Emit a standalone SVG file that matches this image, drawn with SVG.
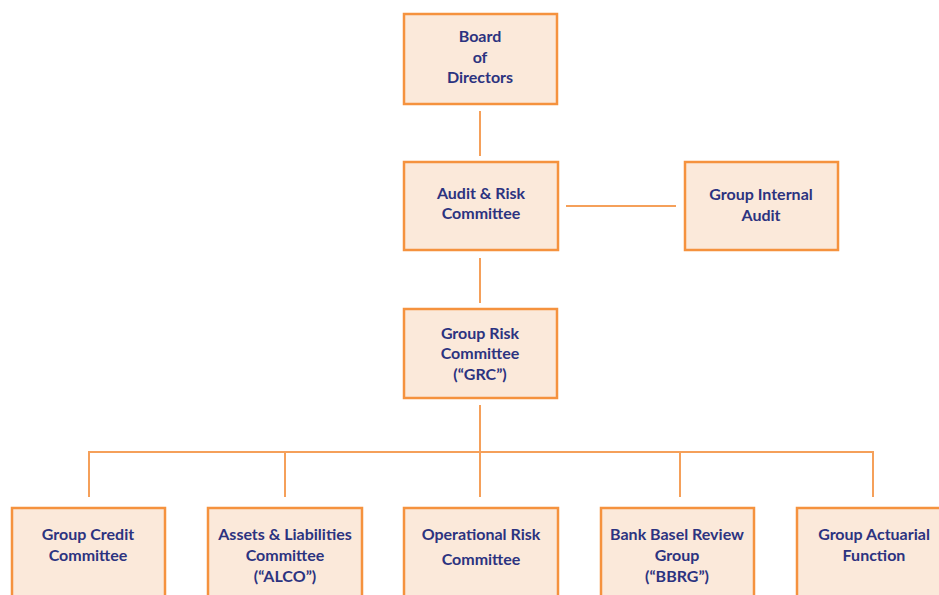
<svg xmlns="http://www.w3.org/2000/svg" width="939" height="595" viewBox="0 0 939 595">
<style>
.box{fill:#fbe9da;stroke:#f5923e;stroke-width:2.5}
.ln{stroke:#f5a05a;stroke-width:2;fill:none}
text{font-family:Lato,"Open Sans","Liberation Sans",sans-serif;font-size:16px;fill:#2c3380;text-anchor:middle;font-weight:bold}
</style>
<rect width="939" height="595" fill="#fff"/>
<g id="connectors">
<line class="ln" x1="480" y1="111" x2="480" y2="156"/>
<line class="ln" x1="480" y1="258" x2="480" y2="303"/>
<line class="ln" x1="566" y1="206" x2="676" y2="206"/>
<line class="ln" x1="480" y1="405" x2="480" y2="497"/>
<path class="ln" d="M89 497V452H873V497"/>
<line class="ln" x1="285" y1="452" x2="285" y2="497"/>
<line class="ln" x1="680" y1="452" x2="680" y2="497"/>
</g>
<g id="board"><rect class="box" x="404" y="14" width="153" height="90"/>
<text x="480" y="42">Board</text><text x="480" y="63">of</text><text x="480" y="83">Directors</text></g>
<g id="audit-risk"><rect class="box" x="404" y="162" width="154" height="88"/>
<text x="481" y="199">Audit &amp; Risk</text><text x="481" y="219">Committee</text></g>
<g id="internal-audit"><rect class="box" x="685" y="162" width="153" height="88"/>
<text x="761" y="200">Group Internal</text><text x="761" y="221">Audit</text></g>
<g id="grc"><rect class="box" x="404" y="309" width="153" height="89"/>
<text x="480" y="339">Group Risk</text><text x="480" y="359">Committee</text><text x="480" y="380">(“GRC”)</text></g>
<g id="credit"><rect class="box" x="12" y="508" width="153" height="100"/>
<text x="88" y="540">Group Credit</text><text x="88" y="561">Committee</text></g>
<g id="alco"><rect class="box" x="208" y="508" width="154" height="100"/>
<text x="285" y="540">Assets &amp; Liabilities</text><text x="285" y="561">Committee</text><text x="285" y="582">(“ALCO”)</text></g>
<g id="oprisk"><rect class="box" x="404" y="508" width="154" height="100"/>
<text x="481" y="540">Operational Risk</text><text x="481" y="565">Committee</text></g>
<g id="bbrg"><rect class="box" x="601" y="508" width="153" height="100"/>
<text x="677" y="540">Bank Basel Review</text><text x="677" y="561">Group</text><text x="677" y="582">(“BBRG”)</text></g>
<g id="actuarial"><rect class="box" x="797" y="508" width="153" height="100"/>
<text x="874" y="540">Group Actuarial</text><text x="874" y="561">Function</text></g>
</svg>
